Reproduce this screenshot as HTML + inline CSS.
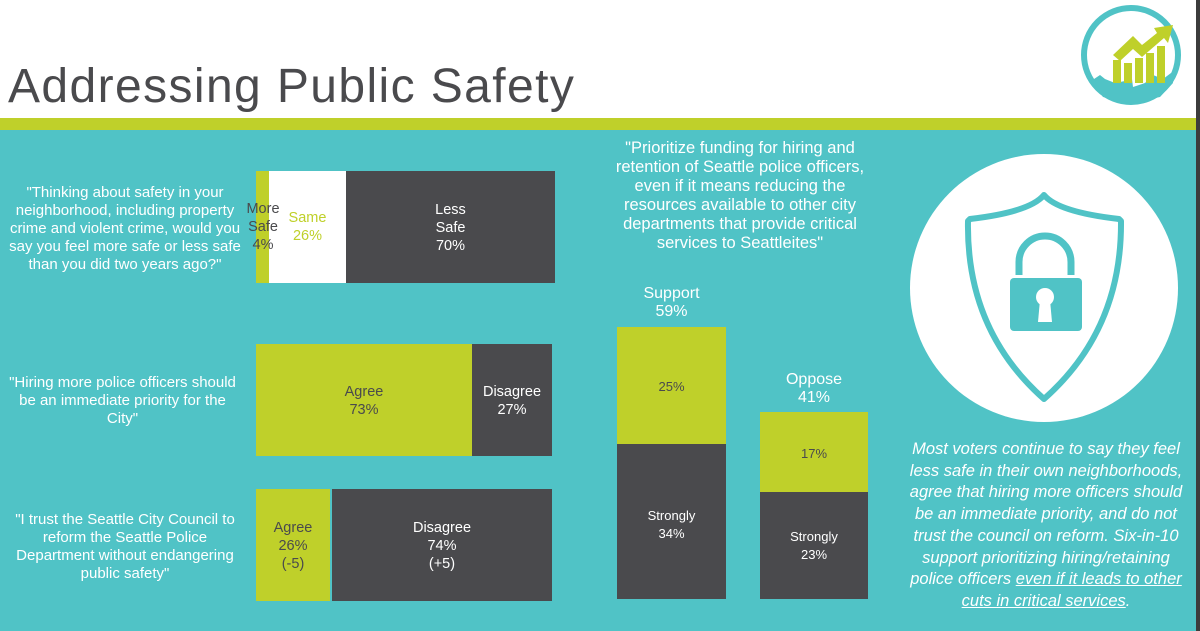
<!DOCTYPE html>
<html><head><meta charset="utf-8"><style>
body{margin:0;width:1200px;height:631px;overflow:hidden;position:relative;background:#50c3c6;font-family:"Liberation Sans",sans-serif}
.a{position:absolute}
.t{position:absolute;text-align:center;font-size:14.5px;line-height:18px;white-space:nowrap}
.w{color:#fff}.d{color:#4a4a4d}
</style></head><body>
<div class="a" style="left:0;top:0;width:1200px;height:118px;background:#fff"></div>
<div class="a" style="left:0;top:118px;width:1200px;height:12px;background:#bfd02a"></div>
<div class="a" style="left:8px;top:56px;font-size:48px;color:#4a4a4d;line-height:62px;letter-spacing:1.4px">Addressing Public Safety</div>
<svg class="a" style="left:1075px;top:3px" width="115" height="105" viewBox="0 0 115 105">
<circle cx="56" cy="52" r="47" fill="none" stroke="#50c3c6" stroke-width="6"/>
<path d="M16,78 L25,72 30,76 40,80 50,78 55,60 58,84 70,80 78,72 88,76 96,70 98,80 85,94 56,100 28,94Z" fill="#50c3c6"/>
<g fill="#bfd02a"><rect x="38" y="57" width="8" height="23"/><rect x="49" y="60" width="8" height="20"/><rect x="60" y="55" width="8" height="25"/><rect x="71" y="50" width="8" height="30"/><rect x="82" y="43" width="8" height="37"/>
<path d="M38,52 L58,33 L67,42 L82,30 L79,25 L98,22 L93,40 L89,35 L67,54 L58,46 L45,58Z"/></g>
</svg>
<div class="a" style="left:1196px;top:0;width:4px;height:631px;background:#3c3c3c"></div>
<div class="t w" style="left:0;top:184px;width:250px;font-size:15px">"Thinking about safety in your<br>neighborhood, including property<br>crime and violent crime, would you<br>say you feel more safe or less safe<br>than you did two years ago?"</div>
<div class="a" style="left:256px;top:171px;width:13px;height:112px;background:#bfd02a"></div>
<div class="a" style="left:269px;top:171px;width:77px;height:112px;background:#fff"></div>
<div class="a" style="left:346px;top:171px;width:209px;height:112px;background:#4a4a4d"></div>
<div class="t d" style="left:240px;top:200px;width:46px">More<br>Safe<br>4%</div>
<div class="t" style="left:269px;top:209px;width:77px;color:#bfd02a">Same<br>26%</div>
<div class="t w" style="left:346px;top:201px;width:209px">Less<br>Safe<br>70%</div>
<div class="t w" style="left:0;top:374px;width:245px;font-size:15px">"Hiring more police officers should<br>be an immediate priority for the<br>City"</div>
<div class="a" style="left:256px;top:344px;width:216px;height:112px;background:#bfd02a"></div>
<div class="a" style="left:472px;top:344px;width:80px;height:112px;background:#4a4a4d"></div>
<div class="t d" style="left:256px;top:383px;width:216px">Agree<br>73%</div>
<div class="t w" style="left:472px;top:383px;width:80px">Disagree<br>27%</div>
<div class="t w" style="left:0;top:511px;width:250px;font-size:15px">"I trust the Seattle City Council to<br>reform the Seattle Police<br>Department without endangering<br>public safety"</div>
<div class="a" style="left:256px;top:489px;width:74px;height:112px;background:#bfd02a"></div>
<div class="a" style="left:332px;top:489px;width:220px;height:112px;background:#4a4a4d"></div>
<div class="t d" style="left:256px;top:519px;width:74px">Agree<br>26%<br>(-5)</div>
<div class="t w" style="left:332px;top:519px;width:220px">Disagree<br>74%<br>(+5)</div>
<div class="t w" style="left:580px;top:139px;width:320px;font-size:16.5px;line-height:19px">"Prioritize funding for hiring and<br>retention of Seattle police officers,<br>even if it means reducing the<br>resources available to other city<br>departments that provide critical<br>services to Seattleites"</div>
<div class="t w" style="left:617px;top:285px;width:109px;font-size:16px">Support<br>59%</div>
<div class="a" style="left:617px;top:327px;width:109px;height:117px;background:#bfd02a"></div>
<div class="a" style="left:617px;top:444px;width:109px;height:155px;background:#4a4a4d"></div>
<div class="t d" style="left:617px;top:378px;width:109px;font-size:13px">25%</div>
<div class="t w" style="left:617px;top:507px;width:109px;font-size:13px">Strongly<br>34%</div>
<div class="t w" style="left:760px;top:371px;width:108px;font-size:16px">Oppose<br>41%</div>
<div class="a" style="left:760px;top:412px;width:108px;height:80px;background:#bfd02a"></div>
<div class="a" style="left:760px;top:492px;width:108px;height:107px;background:#4a4a4d"></div>
<div class="t d" style="left:760px;top:445px;width:108px;font-size:13px">17%</div>
<div class="t w" style="left:760px;top:528px;width:108px;font-size:13px">Strongly<br>23%</div>
<svg class="a" style="left:0;top:0" width="1200" height="631">
<circle cx="1044" cy="288" r="134" fill="#fff"/>
<path d="M1044,195 Q1030,212 970,219 L968,221 Q966,330 1044,399 Q1122,330 1121,221 L1119,219 Q1058,212 1044,195Z" fill="none" stroke="#50c3c6" stroke-width="6" stroke-linejoin="round"/>
<path d="M1019,275 V262 A26,26 0 0 1 1071,262 V275" fill="none" stroke="#50c3c6" stroke-width="7"/>
<rect x="1010" y="278" width="72" height="53" rx="4" fill="#50c3c6"/>
<circle cx="1045" cy="297" r="9" fill="#fff"/>
<path d="M1040,300 L1038,322 H1052 L1050,300Z" fill="#fff"/>
</svg>
<div class="t w" style="left:900px;top:439px;width:292px;font-size:16.5px;line-height:21.7px;font-style:italic">Most voters continue to say they feel<br>less safe in their own neighborhoods,<br>agree that hiring more officers should<br>be an immediate priority, and do not<br>trust the council on reform. Six-in-10<br>support prioritizing hiring/retaining<br>police officers <u>even if it leads to other</u><br><u>cuts in critical services</u>.</div>
</body></html>
